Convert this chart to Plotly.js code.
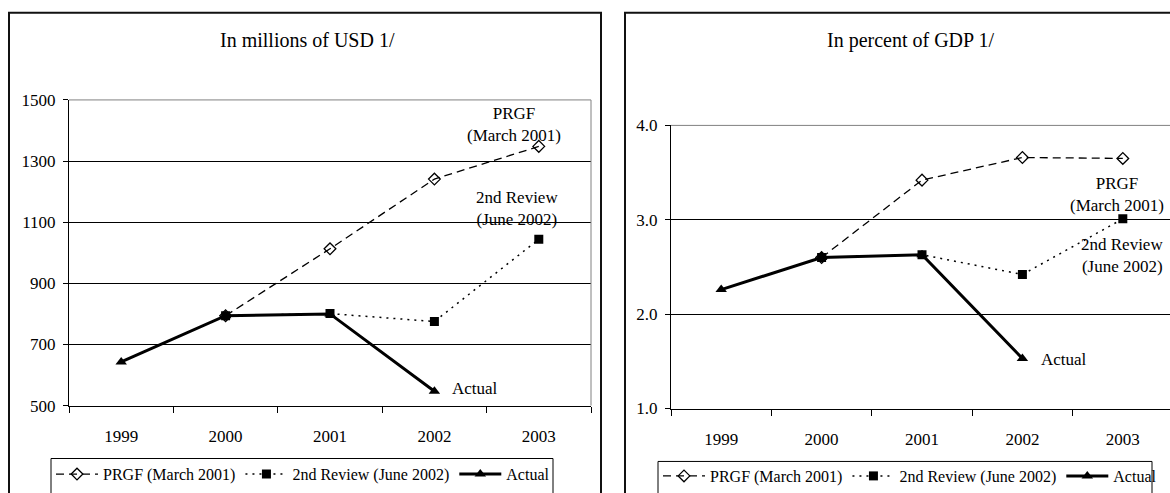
<!DOCTYPE html>
<html>
<head>
<meta charset="utf-8">
<script src="https://cdn.plot.ly/plotly-3.0.1.min.js"></script>
<style>html,body{margin:0;padding:0;background:#fff;}#chart{width:1170px;height:493px;}</style>
</head>
<body>
<div id="chart"></div>
<script>
// ---- data ----
const years = ['1999', '2000', '2001', '2002', '2003'];
const seriesNames = ['PRGF (March 2001)', '2nd Review (June 2002)', 'Actual'];
// In millions of USD
const usdPRGF   = [null, 794, 1013, 1241, 1348];
const usdReview = [null, 794, 801, 775, 1044];
const usdActual = [643, 794, 800, 547, null];
// In percent of GDP
const gdpPRGF   = [null, 2.60, 3.42, 3.66, 3.65];
const gdpReview = [null, 2.60, 2.63, 2.42, 3.01];
const gdpActual = [2.26, 2.60, 2.63, 1.53, null];
const usdTicks = [500, 700, 900, 1100, 1300, 1500];
const gdpTicks = [1.0, 2.0, 3.0, 4.0];

// ---- helpers (pixel -> paper) ----
const W = 1170, H = 493;
const px = x => x / W;
const py = y => 1 - y / H;
const FONT = 'Liberation Serif';

function mk(name, x, y, xa, ya, leg, kind) {
  const t = {x: x, y: y, name: name, xaxis: xa, yaxis: ya, legend: leg, type: 'scatter',
    mode: 'lines+markers', connectgaps: false, hoverinfo: 'skip'};
  if (kind === 0) {
    t.line = {color: '#000', width: 1.3, dash: '8px,5px'};
    t.marker = {symbol: 'diamond-open', size: 9, color: '#000', line: {width: 1.3, color: '#000'}};
    t.legendrank = 1;
  } else if (kind === 1) {
    t.line = {color: '#000', width: 1.5, dash: '2px,5px'};
    t.marker = {symbol: 'square', size: 9, color: '#000'};
    t.legendrank = 2;
  } else {
    t.line = {color: '#000', width: 3};
    t.marker = {symbol: 'triangle-up', size: 10, color: '#000'};
    t.legendrank = 3;
  }
  return t;
}

const data = [
  mk(seriesNames[2], years, usdActual, 'x', 'y', 'legend', 2),
  mk(seriesNames[0], years, usdPRGF, 'x', 'y', 'legend', 0),
  mk(seriesNames[1], years, usdReview, 'x', 'y', 'legend', 1),
  mk(seriesNames[2], years, gdpActual, 'x2', 'y2', 'legend2', 2),
  mk(seriesNames[0], years, gdpPRGF, 'x2', 'y2', 'legend2', 0),
  mk(seriesNames[1], years, gdpReview, 'x2', 'y2', 'legend2', 1)
];

const xBase = {
  type: 'category', categoryarray: years, tickson: 'boundaries', ticks: 'outside',
  ticklen: 6, tickcolor: '#000', tickwidth: 1, showgrid: false, showline: true,
  linecolor: '#000', linewidth: 1, zeroline: false, fixedrange: true, ticklabelstandoff: 15,
  tickfont: {family: FONT, size: 17, color: '#000'}, automargin: false
};
const yBase = {
  ticks: 'outside', ticklen: 5, tickcolor: '#000', tickwidth: 1, showgrid: true,
  gridcolor: '#000', gridwidth: 1, showline: true, linecolor: '#000', linewidth: 1,
  zeroline: false, fixedrange: true, ticklabelstandoff: 4,
  tickfont: {family: FONT, size: 17, color: '#000'}, automargin: false
};

const legBase = {orientation: 'h', xanchor: 'left', yanchor: 'middle',
  borderwidth: 0, bgcolor: 'rgba(0,0,0,0)', itemwidth: 42,
  font: {family: FONT, size: 16, color: '#000'}, traceorder: 'normal',
  itemclick: false, itemdoubleclick: false};

const layout = {
  width: W, height: H,
  margin: {l: 0, r: 0, t: 0, b: 0},
  paper_bgcolor: '#fff', plot_bgcolor: '#fff',
  font: {family: FONT, color: '#000'},
  showlegend: true,
  xaxis: Object.assign({}, xBase, {domain: [px(69), px(591)], anchor: 'y', range: [-0.5, 4.5]}),
  yaxis: Object.assign({}, yBase, {domain: [py(414), py(102)], anchor: 'x', range: [500, 1500],
    tickvals: usdTicks, ticktext: usdTicks.map(String)}),
  xaxis2: Object.assign({}, xBase, {domain: [px(671), 1], anchor: 'y2', range: [-0.5, 4.47]}),
  yaxis2: Object.assign({}, yBase, {domain: [py(417), py(128)], anchor: 'x2', range: [1, 4],
    tickvals: gdpTicks, ticktext: gdpTicks.map(v => v.toFixed(1))}),
  legend: Object.assign({}, legBase, {x: px(51), y: py(484)}),
  legend2: Object.assign({}, legBase, {x: px(658), y: py(486)}),
  shapes: [
    // panel frames
    {type: 'rect', xref: 'paper', yref: 'paper', x0: px(9), x1: px(601), y0: py(13), y1: py(520),
      line: {color: '#111', width: 2}, layer: 'below'},
    {type: 'rect', xref: 'paper', yref: 'paper', x0: px(625), x1: px(1200), y0: py(13), y1: py(520),
      line: {color: '#111', width: 2}, layer: 'below'},
    // legend boxes
    {type: 'rect', xref: 'paper', yref: 'paper', x0: px(51), x1: px(553), y0: py(468), y1: py(520),
      line: {color: '#000', width: 1}, layer: 'below'},
    {type: 'rect', xref: 'paper', yref: 'paper', x0: px(658), x1: px(1152), y0: py(471), y1: py(520),
      line: {color: '#000', width: 1}, layer: 'below'},
    // plot-area border (top & right, gray)
    {type: 'line', xref: 'x domain', yref: 'y domain', x0: 0, x1: 1, y0: 1, y1: 1, line: {color: '#808080', width: 1}, layer: 'above'},
    {type: 'line', xref: 'x domain', yref: 'y domain', x0: 1, x1: 1, y0: 0, y1: 1, line: {color: '#808080', width: 1}, layer: 'above'},
    {type: 'line', xref: 'x2 domain', yref: 'y2 domain', x0: 0, x1: 1, y0: 1, y1: 1, line: {color: '#808080', width: 1}, layer: 'above'}
  ],
  annotations: [
    {text: 'In millions of USD 1/', xref: 'paper', yref: 'paper', x: px(307), y: py(41),
      xanchor: 'center', yanchor: 'middle', showarrow: false, font: {family: FONT, size: 20, color: '#000'}},
    {text: 'In percent of GDP 1/', xref: 'paper', yref: 'paper', x: px(910), y: py(41),
      xanchor: 'center', yanchor: 'middle', showarrow: false, font: {family: FONT, size: 20, color: '#000'}},
    {text: 'PRGF<br>(March 2001)', xref: 'paper', yref: 'paper', x: px(514), y: py(127),
      xanchor: 'center', yanchor: 'middle', showarrow: false, font: {family: FONT, size: 17, color: '#000'}},
    {text: '2nd Review<br>(June 2002)', xref: 'paper', yref: 'paper', x: px(517), y: py(213),
      xanchor: 'center', yanchor: 'middle', showarrow: false, font: {family: FONT, size: 17, color: '#000'}},
    {text: 'Actual', xref: 'paper', yref: 'paper', x: px(450), y: py(397),
      xanchor: 'left', yanchor: 'middle', showarrow: false, font: {family: FONT, size: 17, color: '#000'}},
    {text: 'PRGF<br>(March 2001)', xref: 'paper', yref: 'paper', x: px(1117), y: py(199),
      xanchor: 'center', yanchor: 'middle', showarrow: false, font: {family: FONT, size: 17, color: '#000'}},
    {text: '2nd Review<br>(June 2002)', xref: 'paper', yref: 'paper', x: px(1165), y: py(261),
      xanchor: 'right', yanchor: 'middle', align: 'right', showarrow: false, font: {family: FONT, size: 17, color: '#000'}},
    {text: 'Actual', xref: 'paper', yref: 'paper', x: px(1039), y: py(367),
      xanchor: 'left', yanchor: 'middle', showarrow: false, font: {family: FONT, size: 17, color: '#000'}}
  ]
};

Plotly.newPlot('chart', data, layout, {displayModeBar: false, staticPlot: true});
</script>
</body>
</html>
